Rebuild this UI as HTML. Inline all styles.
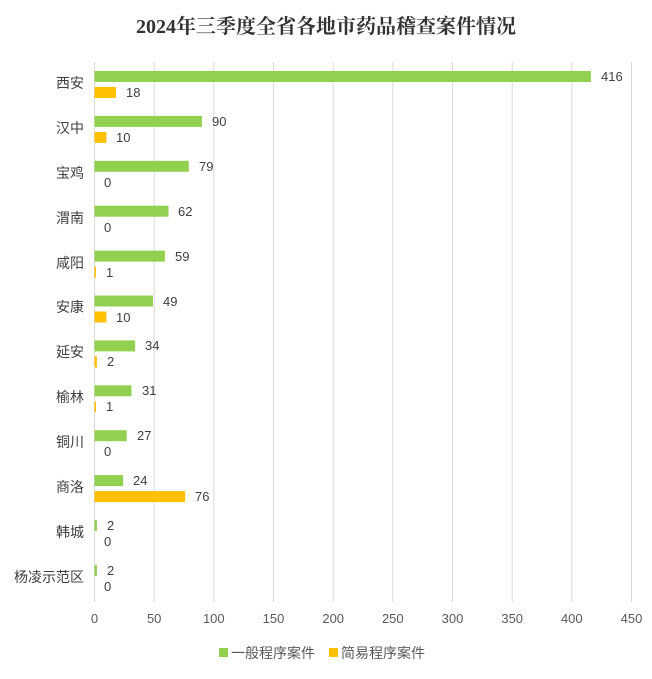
<!DOCTYPE html>
<html><head><meta charset="utf-8"><style>
body{margin:0;background:#fff}
text{font-family:"Liberation Sans","Noto Sans CJK SC",sans-serif}
</style></head><body>
<svg width="652" height="674" xmlns="http://www.w3.org/2000/svg">
<text x="326" y="33" text-anchor="middle" font-size="20" font-weight="bold" fill="#333" style="font-family:'Liberation Serif','Noto Serif CJK SC',serif">2024年三季度全省各地市药品稽查案件情况</text>
<g stroke="#d9d9d9">
<line x1="94.5" y1="62" x2="94.5" y2="602"/><line x1="154.2" y1="62" x2="154.2" y2="602"/><line x1="213.8" y1="62" x2="213.8" y2="602"/><line x1="273.5" y1="62" x2="273.5" y2="602"/><line x1="333.2" y1="62" x2="333.2" y2="602"/><line x1="392.8" y1="62" x2="392.8" y2="602"/><line x1="452.5" y1="62" x2="452.5" y2="602"/><line x1="512.2" y1="62" x2="512.2" y2="602"/><line x1="571.8" y1="62" x2="571.8" y2="602"/><line x1="631.5" y1="62" x2="631.5" y2="602"/>
</g>
<g font-size="13" fill="#595959" text-anchor="middle">
<text x="94.5" y="623">0</text><text x="154.2" y="623">50</text><text x="213.8" y="623">100</text><text x="273.5" y="623">150</text><text x="333.2" y="623">200</text><text x="392.8" y="623">250</text><text x="452.5" y="623">300</text><text x="512.2" y="623">350</text><text x="571.8" y="623">400</text><text x="631.5" y="623">450</text>
</g>
<g font-size="14" fill="#404040" text-anchor="end">
<text x="84" y="88">西安</text><text x="84" y="133">汉中</text><text x="84" y="178">宝鸡</text><text x="84" y="223">渭南</text><text x="84" y="268">咸阳</text><text x="84" y="312">安康</text><text x="84" y="357">延安</text><text x="84" y="402">榆林</text><text x="84" y="447">铜川</text><text x="84" y="492">商洛</text><text x="84" y="537">韩城</text><text x="84" y="582">杨凌示范区</text>
</g>
<g fill="#92d050">
<rect x="94.5" y="71" width="496.4" height="11"/><rect x="94.5" y="115.9" width="107.4" height="11"/><rect x="94.5" y="160.8" width="94.3" height="11"/><rect x="94.5" y="205.7" width="74" height="11"/><rect x="94.5" y="250.6" width="70.4" height="11"/><rect x="94.5" y="295.5" width="58.5" height="11"/><rect x="94.5" y="340.4" width="40.6" height="11"/><rect x="94.5" y="385.3" width="37" height="11"/><rect x="94.5" y="430.2" width="32.2" height="11"/><rect x="94.5" y="475.1" width="28.6" height="11"/><rect x="94.5" y="520" width="2.4" height="11"/><rect x="94.5" y="564.9" width="2.4" height="11"/>
</g>
<g fill="#ffc000">
<rect x="94.5" y="87" width="21.5" height="11"/><rect x="94.5" y="131.9" width="11.9" height="11"/><rect x="94.5" y="266.6" width="1.5" height="11"/><rect x="94.5" y="311.5" width="11.9" height="11"/><rect x="94.5" y="356.4" width="2.4" height="11"/><rect x="94.5" y="401.3" width="1.5" height="11"/><rect x="94.5" y="491.1" width="90.7" height="11"/>
</g>
<g font-size="13" fill="#404040">
<text x="601" y="81">416</text><text x="212" y="126">90</text><text x="199" y="171">79</text><text x="178" y="216">62</text><text x="175" y="261">59</text><text x="163" y="306">49</text><text x="145" y="350">34</text><text x="142" y="395">31</text><text x="137" y="440">27</text><text x="133" y="485">24</text><text x="107" y="530">2</text><text x="107" y="575">2</text>
<text x="126" y="97">18</text><text x="116" y="142">10</text><text x="104" y="187">0</text><text x="104" y="232">0</text><text x="106" y="277">1</text><text x="116" y="322">10</text><text x="107" y="366">2</text><text x="106" y="411">1</text><text x="104" y="456">0</text><text x="195" y="501">76</text><text x="104" y="546">0</text><text x="104" y="591">0</text>
</g>
<rect x="219" y="648" width="9" height="9" fill="#92d050"/><text x="231" y="658" font-size="14" fill="#595959">一般程序案件</text>
<rect x="329" y="648" width="9" height="9" fill="#ffc000"/><text x="341" y="658" font-size="14" fill="#595959">简易程序案件</text>
</svg>
</body></html>
